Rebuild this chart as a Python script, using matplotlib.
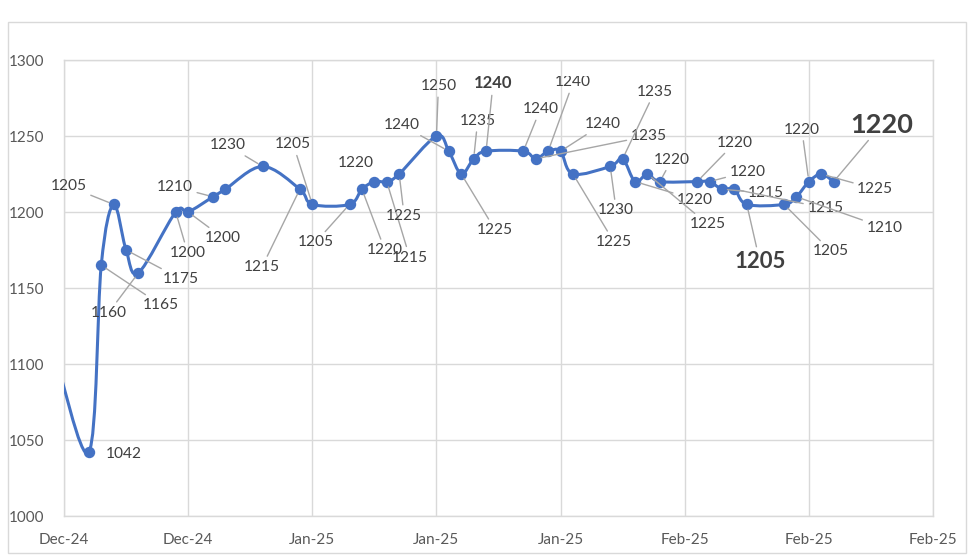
import matplotlib
matplotlib.use("Agg")
import matplotlib.pyplot as plt
from matplotlib.path import Path
from matplotlib.patches import PathPatch, Rectangle
from matplotlib.transforms import Bbox, TransformedBbox

# ---------------- data ----------------
# x = trading-day position (days after the axis start); two leading points lie left of the axis
day = [-2, -1, 2, 3, 4, 5, 6, 9, 10, 12, 13, 16, 19, 20, 23, 24, 25, 26, 27, 30, 31, 32, 33, 34,
       37, 38, 39, 40, 41, 44, 45, 46, 47, 48, 51, 52, 53, 54, 55, 58, 59, 60, 61, 62]
price = [1110, 1112, 1042, 1165, 1205, 1175, 1160, 1200, 1200, 1210, 1215, 1230, 1215, 1205,
         1205, 1215, 1220, 1220, 1225, 1250, 1240, 1225, 1235, 1240, 1240, 1235, 1240, 1240,
         1225, 1230, 1235, 1220, 1225, 1220, 1220, 1220, 1215, 1215, 1205, 1205, 1210, 1220,
         1225, 1220]
# data-label texts (None = no label)
label_text = [None, None, "1042", "1165", "1205", "1175", "1160", "1200", "1200", "1210", None,
              "1230", "1215", "1205", "1205", "1220", "1220", "1215", "1225", "1250", "1240",
              "1225", "1235", "1240", "1240", "1235", "1240", "1240", "1225", "1230", "1235",
              "1220", "1225", "1220", "1220", "1220", "1215", "1215", "1205", "1205", "1210",
              "1220", "1225", "1220"]
x_ticks = [0, 10, 20, 30, 40, 50, 60, 70]
x_tick_labels = ["Dec-24", "Dec-24", "Jan-25", "Jan-25", "Jan-25", "Feb-25", "Feb-25", "Feb-25"]
y_ticks = [1000, 1050, 1100, 1150, 1200, 1250, 1300]

# ---------------- label layout (pixel offsets from the point, style) ----------------
N = 11.2
# (dx, dy, leader, weight, size)
label_style = [
    None, None,
    (35, -2, False, "normal", N),   # 1042
    (60, -40, True, "normal", N),   # 1165
    (-45, 18, True, "normal", N),   # 1205
    (55, -29, True, "normal", N),   # 1175
    (-30, -40, True, "normal", N),  # 1160
    (12, -41, True, "normal", N),   # 1200
    (35, -26, True, "normal", N),   # 1200
    (-38, 10, True, "normal", N),   # 1210
    None,
    (-35, 21, True, "normal", N),   # 1230
    (-38, -78, True, "normal", N),  # 1215
    (-19, 60, True, "normal", N),   # 1205
    (-34, -38, True, "normal", N),  # 1205
    (23, -61, True, "normal", N),   # 1220
    (-19, 19, False, "normal", N),  # 1220
    (23, -76, True, "normal", N),   # 1215
    (5, -42, True, "normal", N),    # 1225
    (2, 50, True, "normal", N),     # 1250
    (-47, 26, True, "normal", N),   # 1240
    (34, -56, True, "normal", N),   # 1225
    (4, 38, True, "normal", N),     # 1235
    (7, 68, True, "bold", 12),      # 1240 bold
    (17, 42, True, "normal", N),    # 1240
    (113, 23, True, "normal", N),   # 1235
    (25, 69, True, "normal", N),    # 1240 (clipped top)
    (42, 27, True, "normal", N),    # 1240
    (41, -68, True, "normal", N),   # 1225
    (6, -44, True, "normal", N),    # 1230
    (32, 67, True, "normal", N),    # 1235
    (60, -18, True, "normal", N),   # 1220
    (60, -50, True, "normal", N),   # 1225
    (12, 22, True, "normal", N),    # 1220
    (38, 39, True, "normal", N),    # 1220
    (38, 10, True, "normal", N),    # 1220
    (44, -4, True, "normal", N),    # 1215
    (91, -19, True, "normal", N),   # 1215
    (13, -57, True, "bold", 16),    # 1205 bold
    (47, -47, True, "normal", N),   # 1205
    (88, -31, True, "normal", N),   # 1210
    (-7, 52, True, "normal", N),    # 1220
    (54, -15, True, "normal", N),   # 1225
    (48, 57, True, "bold", 19.5),   # 1220 bold big
]

FONT = ["Lato", "DejaVu Sans"]
plt.rcParams["font.family"] = FONT
BLUE = "#4472C4"
GRID = "#D9D9D9"
TXT = "#595959"

W, H = 980, 556
fig = plt.figure(figsize=(W / 100, H / 100), dpi=100)
fig.patch.set_facecolor("white")
ax = fig.add_axes([64 / W, (H - 516) / H, (933 - 64) / W, (516 - 60) / H])

# outer chart border
fig.add_artist(Rectangle((8 / W, (H - 553) / H), (966 - 8) / W, (553 - 22) / H,
                         transform=fig.transFigure, fill=False, edgecolor=GRID, lw=1))

ax.set_xlim(x_ticks[0], x_ticks[-1])
ax.set_ylim(y_ticks[0], y_ticks[-1])
ax.set_xticks(x_ticks)
ax.set_xticklabels(x_tick_labels)
ax.set_yticks(y_ticks)
ax.set_yticklabels([str(v) for v in y_ticks])
ax.tick_params(length=0, colors=TXT, labelsize=11)
ax.tick_params(axis="x", pad=12)
ax.tick_params(axis="y", pad=14)
ax.grid(True, color=GRID, lw=1)
ax.set_axisbelow(True)
for s in ax.spines.values():
    s.set_color(GRID)
    s.set_linewidth(1)

# smoothed (Catmull-Rom style bezier, like Excel "smoothed line")
n = len(day)
verts = [(day[0], price[0])]
codes = [Path.MOVETO]
for i in range(n - 1):
    a = i - 1 if i > 0 else i
    d = i + 2 if i + 2 < n else i + 1
    c1 = (day[i] + (day[i + 1] - day[a]) / 6, price[i] + (price[i + 1] - price[a]) / 6)
    c2 = (day[i + 1] - (day[d] - day[i]) / 6, price[i + 1] - (price[d] - price[i]) / 6)
    verts += [c1, c2, (day[i + 1], price[i + 1])]
    codes += [Path.CURVE4] * 3
ax.add_patch(PathPatch(Path(verts, codes), facecolor="none", edgecolor=BLUE, lw=2.2,
                       capstyle="round", joinstyle="round", zorder=3))
ax.plot(day, price, linestyle="none", marker="o", markersize=7.2, color=BLUE, zorder=4)

clipbox = TransformedBbox(Bbox([[0, 0], [1, (H - 76) / H]]), fig.transFigure)
for xv, yv, txt, st in zip(day, price, label_text, label_style):
    if txt is None or st is None:
        continue
    dx, dy, leader, wt, sz = st
    ap = dict(arrowstyle="-", color="#A6A6A6", lw=1, shrinkA=1, shrinkB=4) if leader else None
    t = ax.annotate(txt, xy=(xv, yv), xytext=(dx, dy), textcoords="offset pixels",
                    ha="center", va="center", fontsize=sz, fontweight=wt,
                    color="#404040", arrowprops=ap, zorder=5, annotation_clip=False)
    t.set_clip_box(clipbox)
    t.set_clip_on(True)

fig.savefig("out.png", dpi=100, facecolor="white")
